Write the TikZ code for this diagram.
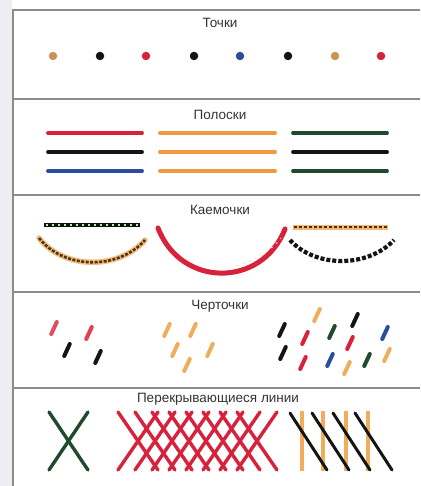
\documentclass[tikz,border=0pt]{standalone}
\usepackage{fontspec}
\setmainfont{Liberation Sans}
\begin{document}
\begin{tikzpicture}[x=1pt,y=-1pt,
  frame/.style={draw=black!45,line width=1.1pt},
  title/.style={font=\fontsize{13.5}{14}\selectfont,text=black!80,inner sep=0pt},
  dot/.style={circle,inner sep=0pt,minimum size=8.5pt},
  stripe/.style={line width=3.8pt,line cap=round},
  tick/.style={line width=4pt,line cap=round},
  cross/.style={line width=3.4pt,line cap=round}]
\definecolor{cOr}{HTML}{EE9A3E}
\definecolor{cOrB}{HTML}{C99452}
\definecolor{cOrL}{HTML}{F0AE5C}
\definecolor{cRed}{HTML}{D8213A}
\definecolor{cBlue}{HTML}{2C4C9C}
\definecolor{cGreen}{HTML}{1F4A2C}
\definecolor{cBlk}{HTML}{141414}
\definecolor{cBg}{HTML}{ECEEF3}
\useasboundingbox (0,0) rectangle (420,486);
\fill[white] (0,0) rectangle (420,486);
\fill[cBg] (0,0) rectangle (12,486);
% frame
\draw[frame] (13,486) -- (13,10) -- (420,10);
\foreach \yy in {99,195,292,388} \draw[frame] (13,\yy) -- (420,\yy);
% titles
\node[title] (t1) at (220,23) {Точки};
\node[title] (t2) at (220,115) {Полоски};
\node[title] (t3) at (220,210) {Каемочки};
\node[title] (t4) at (220,306) {Черточки};
\node[title] (t5) at (218,399) {Перекрывающиеся линии};
% dots
\foreach \x/\c [count=\i] in {53/cOrB,100/cBlk,146/cRed,194/cBlk,240/cBlue,288/cBlk,335/cOrB,381/cRed}
  \node[dot,fill=\c] (d\i) at (\x,56) {};
% stripes
\foreach \y/\a/\b/\c in {133/cRed/cOr/cGreen,152/cBlk/cOr/cBlk,171/cBlue/cOr/cGreen}{
  \draw[stripe,\a] (48,\y) -- (142,\y);
  \draw[stripe,\b] (160,\y) -- (275,\y);
  \draw[stripe,\c] (293,\y) -- (387,\y);
}
% kaemochki
\draw[line width=4.5pt,black!75!green!40!black] (44,225) -- (140,225);
\draw[line width=1.8pt,white!70!gray,dash pattern=on 2pt off 4pt] (46,225) -- (139,225);
\draw[line width=5.5pt,cOrL!80,line cap=round] (39,238) .. controls (64,270) and (119,270) .. (145,240);
\draw[line width=2.6pt,black!60!brown,dash pattern=on 3pt off 1.5pt] (39,238) .. controls (64,270) and (119,270) .. (145,240);
\draw[line width=5pt,cRed,line cap=round] (158,228) .. controls (181,288) and (262,288) .. (285,229);
\draw[line width=1.2pt,white!85!red,dash pattern=on 1.5pt off 5pt] (237,266) .. controls (255,260) and (270,252) .. (281,238);
\draw[line width=5pt,cOrL!85] (293,227) -- (388,227);
\draw[line width=2.6pt,black!65!brown,dash pattern=on 3pt off 2pt] (294,227) -- (387,227);
\draw[line width=4.2pt,cBlk,dash pattern=on 4pt off 2pt] (290,240) .. controls (315,268) and (368,268) .. (394,240);
% chertochki
\foreach \x/\y/\c in {
  54/328/cRed!80, 89/333/cRed!85, 67/350/cBlk, 98/357/cBlk,
  167/330/cOrL, 193/330/cOrL, 175/350/cOrL, 210/350/cOrL, 187/365/cOrL,
  317/315/cOrL, 282/330/cBlk, 305/338/cRed, 332/332/cGreen, 355/320/cBlk,
  350/343/cRed, 385/333/cBlue, 283/353/cBlk, 303/363/cRed, 330/360/cBlue,
  347/368/cOrL, 367/360/cGreen, 387/355/cOrL}
  \draw[tick,\c] ({\x-2.8},{\y+6}) -- ({\x+2.8},{\y-6});
% overlapping lines
\draw[cross,cGreen] (49,412) -- (88,470);
\draw[cross,cGreen] (88,412) -- (49,470);
\foreach \i in {0,...,7}{
  \draw[cross,cRed] ({118+17*\i},412) -- ({158+17*\i},470);
  \draw[cross,cRed] ({277-17*\i},412) -- ({237-17*\i},470);
}
\foreach \x in {302,323,346,368}
  \draw[line width=3.8pt,cOrL] (\x,411) -- (\x,471);
\foreach \x in {290,312,333,355}
  \draw[line width=3pt,cBlk,line cap=round] (\x,413) -- ({\x+37},470);
\end{tikzpicture}
\end{document}
